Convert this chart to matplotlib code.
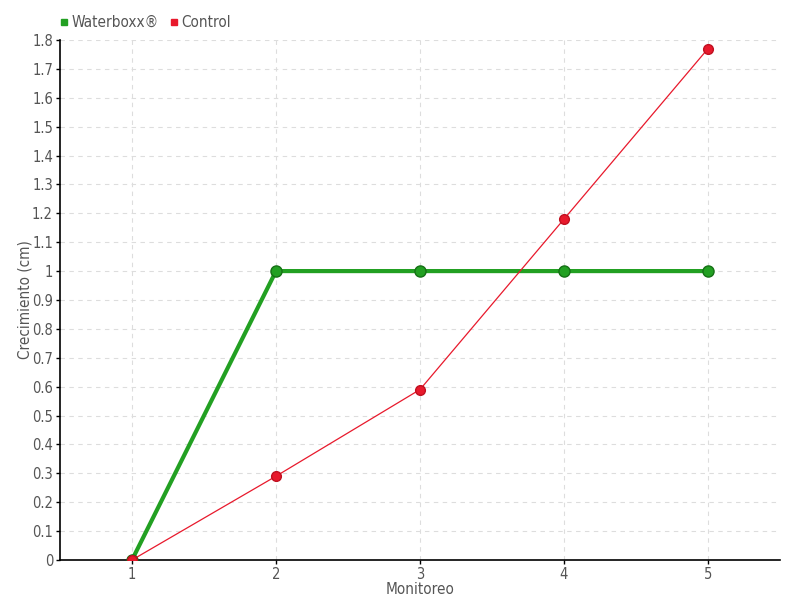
import matplotlib
matplotlib.use('Agg')
import matplotlib.pyplot as plt
from matplotlib.lines import Line2D

monitoreo = [1, 2, 3, 4, 5]
waterboxx = [0, 1, 1, 1, 1]
control = [0, 0.29, 0.59, 1.18, 1.77]
y_ticks = [i / 10 for i in range(19)]
y_labels = ["0", "0.1", "0.2", "0.3", "0.4", "0.5", "0.6", "0.7", "0.8", "0.9",
            "1", "1.1", "1.2", "1.3", "1.4", "1.5", "1.6", "1.7", "1.8"]

plt.rcParams['font.family'] = ['DejaVu Sans']
plt.rcParams['font.stretch'] = 'condensed'
text_col = '#555555'
green = '#22a022'
red = '#e8192c'

fig = plt.figure(figsize=(8, 6), dpi=100)
ax = fig.add_axes([0.075, 0.0667, 0.9, 0.8667])

ax.plot(monitoreo, waterboxx, color=green, lw=3, marker='o', ms=8,
        mfc=green, mec='#157015', mew=1, zorder=3)
ax.plot(monitoreo, control, color=red, lw=0.9, marker='o', ms=7,
        mfc=red, mec='#c01020', mew=1, zorder=4)

ax.set_xlim(0.5, 5.5)
ax.set_ylim(0, 1.8)
ax.set_xticks(monitoreo)
ax.set_yticks(y_ticks)
ax.set_yticklabels(y_labels)
ax.grid(True, color='#dddddd', ls=(0, (4, 4)), lw=0.8)
ax.set_axisbelow(True)

for s in ['top', 'right']:
    ax.spines[s].set_visible(False)
for s in ['left', 'bottom']:
    ax.spines[s].set_color('black')
    ax.spines[s].set_linewidth(1.2)
ax.tick_params(axis='both', colors='black', labelcolor=text_col, labelsize=10.5,
               length=3, width=1, pad=2)
ax.tick_params(axis='y', direction='out')

ax.set_xlabel('Monitoreo', color=text_col, fontsize=11, labelpad=0)
ax.set_ylabel('Crecimiento (cm)', color=text_col, fontsize=11, labelpad=0)

handles = [Line2D([], [], ls='none', marker='s', ms=5, color=green),
           Line2D([], [], ls='none', marker='s', ms=5, color=red)]
fig.legend(handles, ['Waterboxx®', 'Control'], loc='upper left',
           bbox_to_anchor=(0.055, 0.998), ncol=2, frameon=False,
           fontsize=11, labelcolor=text_col, handletextpad=0.1,
           columnspacing=0.6, handlelength=0.8)

fig.savefig('out.png', dpi=100)
